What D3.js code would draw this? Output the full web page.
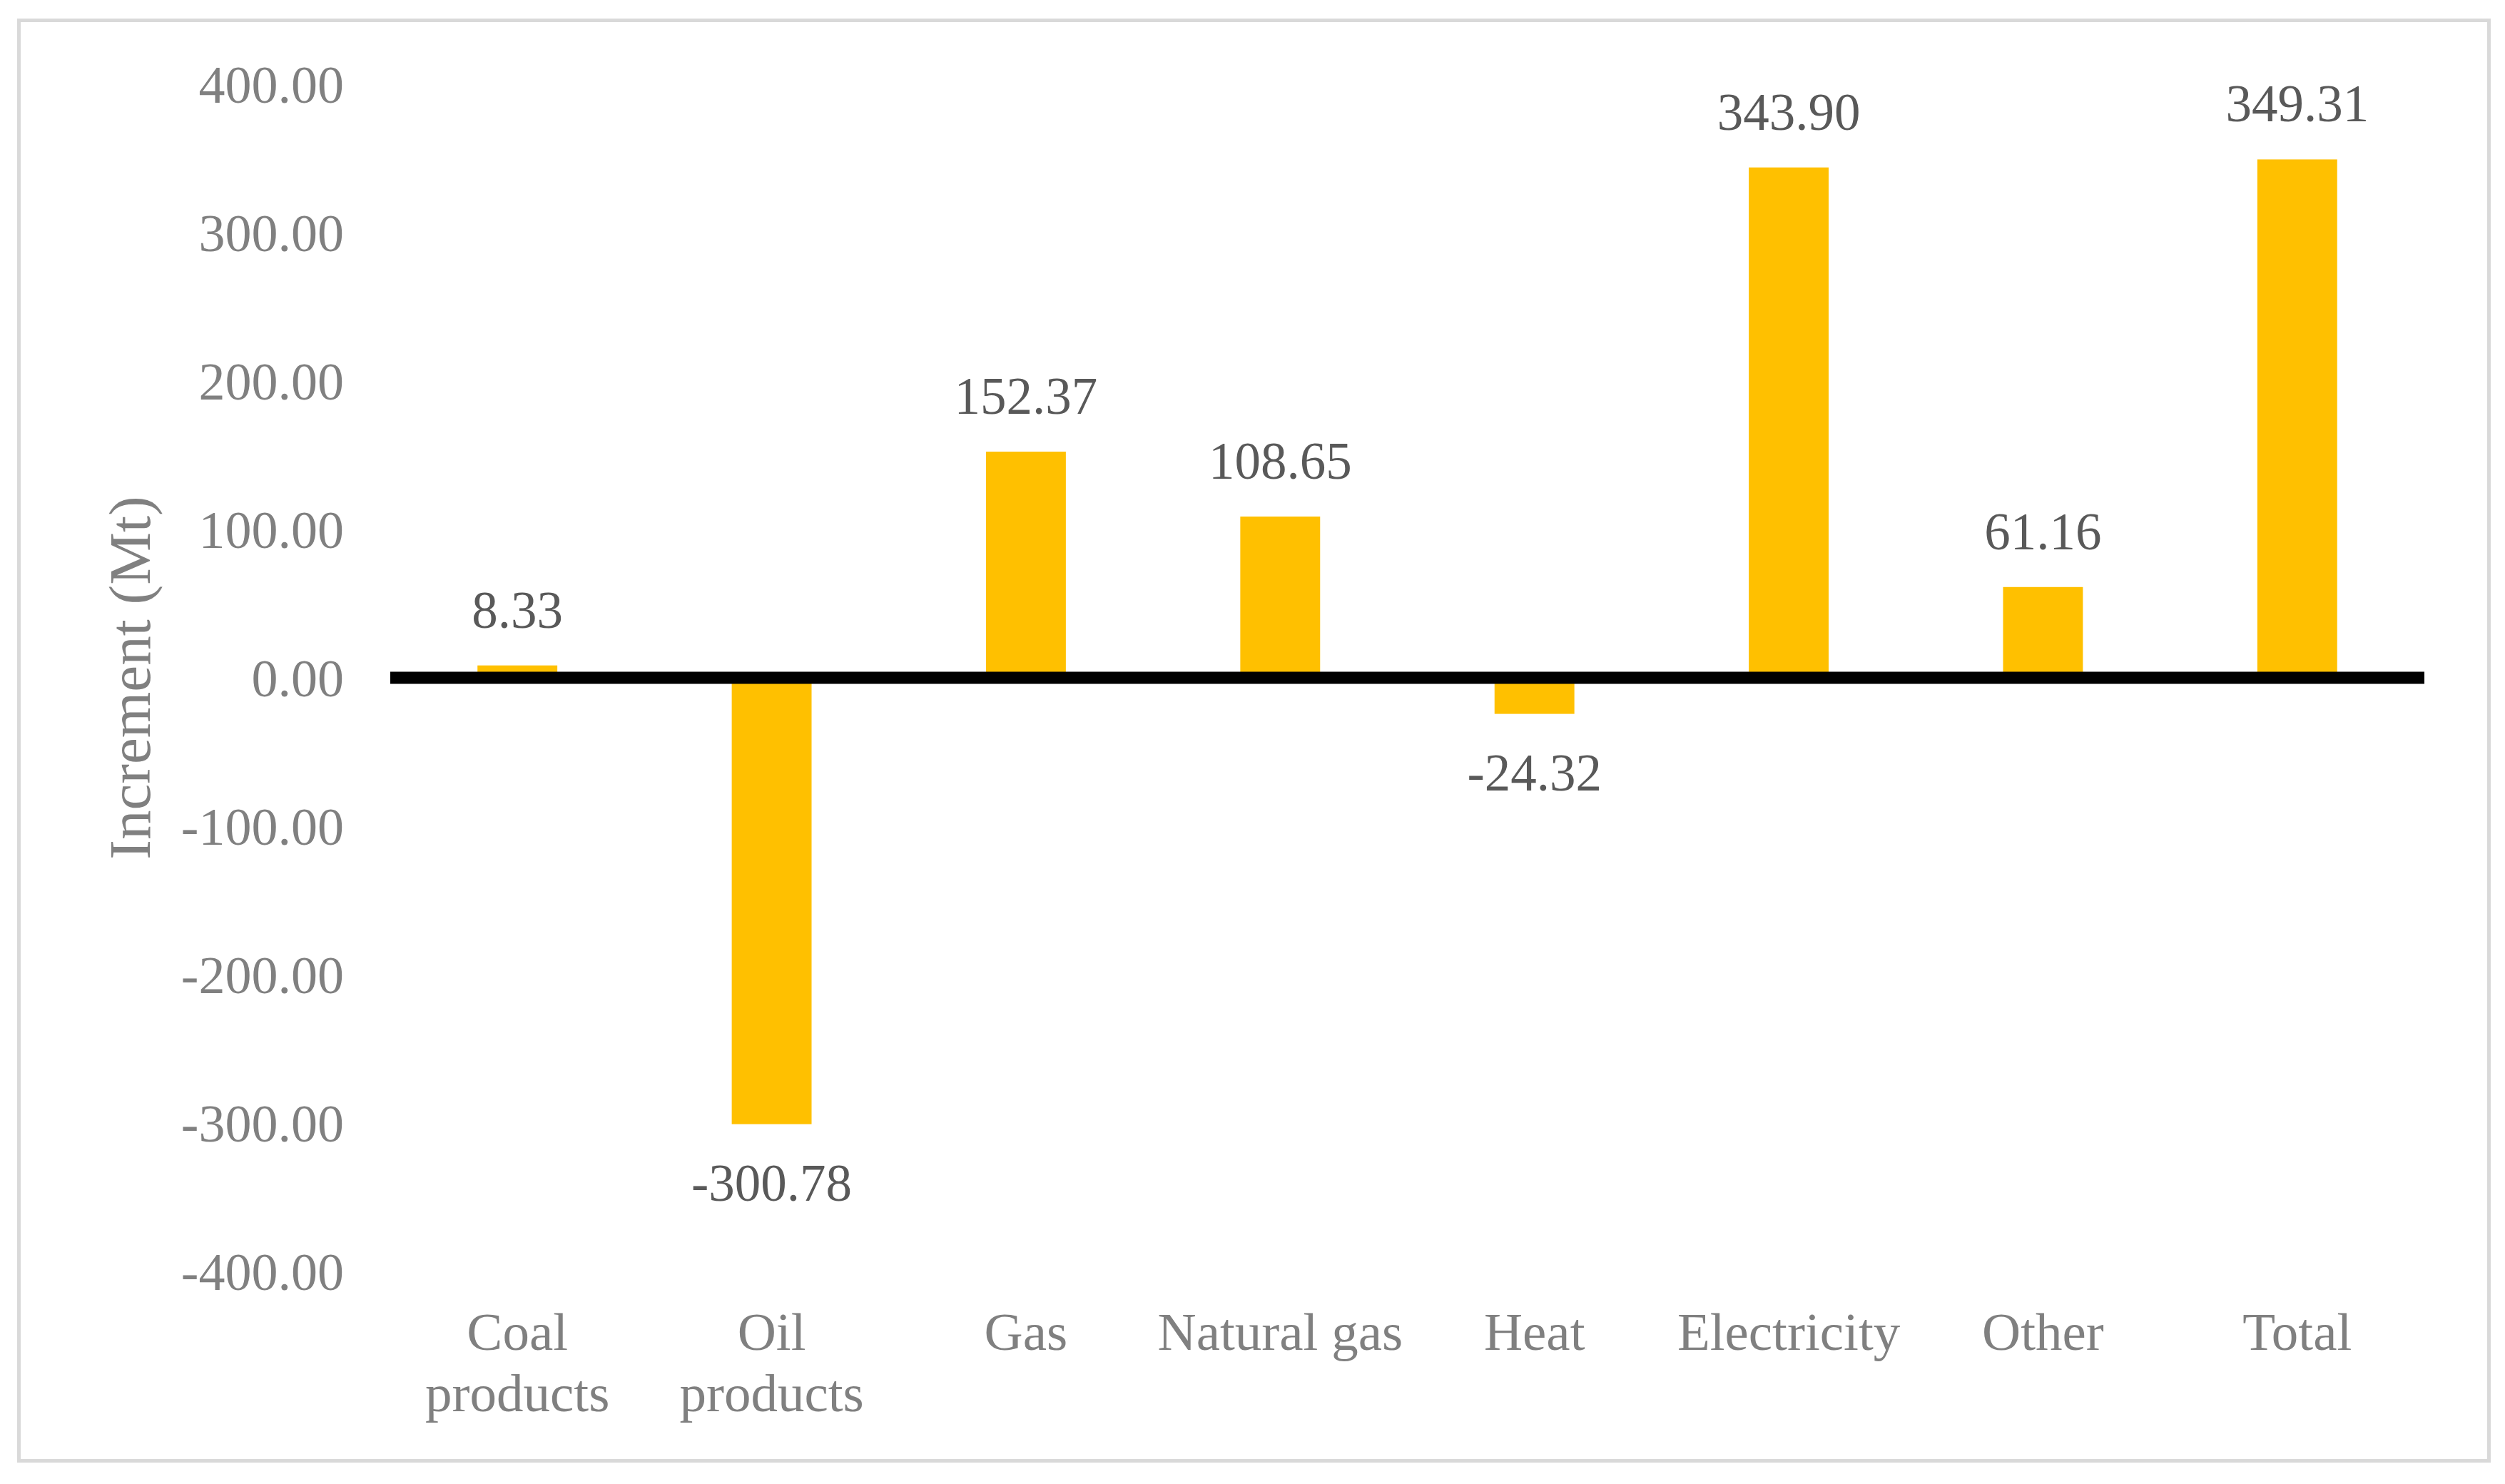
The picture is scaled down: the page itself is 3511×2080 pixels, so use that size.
<!DOCTYPE html>
<html>
<head>
<meta charset="utf-8">
<script src="https://cdn.jsdelivr.net/npm/d3@7"></script>
<style>
  html, body { margin: 0; padding: 0; background: #ffffff; }
  svg { display: block; }
</style>
</head>
<body>
<svg id="chart" width="3511" height="2080"></svg>
<script>
// ---- data ----
const categories = ["Coal products", "Oil products", "Gas", "Natural gas", "Heat", "Electricity", "Other", "Total"];
const increments = [8.33, -300.78, 152.37, 108.65, -24.32, 343.90, 61.16, 349.31];
const yTicks = [400, 300, 200, 100, 0, -100, -200, -300, -400];
const yTitle = "Increment (Mt)";

// ---- layout ----
const W = 3511, H = 2080;
const plotLeft = 547, plotRight = 3398, plotTop = 118, plotBottom = 1782;
const font = "'Liberation Serif', 'Times New Roman', serif";
const barColor = "#FFC000";
const axisGray = "#808080";
const labelGray = "#595959";

const svg = d3.select("#chart");
svg.append("rect").attr("x", 0).attr("y", 0).attr("width", W).attr("height", H).attr("fill", "#ffffff");
svg.append("rect")
  .attr("x", 26.5).attr("y", 28.5).attr("width", 3462).attr("height", 2019)
  .attr("fill", "#ffffff").attr("stroke", "#d9d9d9").attr("stroke-width", 5);

const x = d3.scaleBand().domain(categories).range([plotLeft, plotRight])
  .paddingInner(0.686).paddingOuter(0.343);
const y = d3.scaleLinear().domain([-400, 400]).range([plotBottom, plotTop]);

const fmt = v => v.toFixed(2);

// y axis (labels only)
const yAxis = svg.append("g").attr("transform", `translate(${plotLeft},0)`)
  .call(d3.axisLeft(y).tickValues(yTicks).tickSize(0).tickPadding(65).tickFormat(fmt));
yAxis.select(".domain").remove();
yAxis.selectAll("text")
  .attr("font-family", font).attr("font-size", 74).attr("fill", axisGray)
  .attr("dy", "0.35em");

// y title
svg.append("text")
  .attr("transform", `translate(210,${y(0)}) rotate(-90)`)
  .attr("text-anchor", "middle")
  .attr("font-family", font).attr("font-size", 83).attr("fill", axisGray)
  .text(yTitle);

const data = categories.map((c, i) => ({ c, v: increments[i] }));

// bars
svg.append("g").selectAll("rect").data(data).join("rect")
  .attr("x", d => x(d.c))
  .attr("width", x.bandwidth())
  .attr("y", d => y(Math.max(0, d.v)))
  .attr("height", d => Math.abs(y(d.v) - y(0)))
  .attr("fill", barColor);

// zero line
svg.append("line")
  .attr("x1", plotLeft).attr("x2", plotRight)
  .attr("y1", y(0)).attr("y2", y(0))
  .attr("stroke", "#000000").attr("stroke-width", 17);

// data labels
svg.append("g").selectAll("text").data(data).join("text")
  .attr("x", d => x(d.c) + x.bandwidth() / 2)
  .attr("y", d => d.v >= 0 ? y(d.v) - 53 : y(d.v) + 107)
  .attr("text-anchor", "middle")
  .attr("font-family", font).attr("font-size", 73).attr("fill", labelGray)
  .text(d => fmt(d.v));

// category labels (wrapped when wider than the band step)
const catG = svg.append("g");
const catFont = 75, lineH = 86, firstBaseline = 1892;
categories.forEach(c => {
  const t = catG.append("text")
    .attr("text-anchor", "middle")
    .attr("font-family", font).attr("font-size", catFont).attr("fill", axisGray);
  const cx = x(c) + x.bandwidth() / 2;
  t.append("tspan").attr("x", cx).attr("y", firstBaseline).text(c);
  const w = t.node().getComputedTextLength();
  if (w > x.step() && c.includes(" ")) {
    t.selectAll("tspan").remove();
    c.split(" ").forEach((word, i) => {
      t.append("tspan").attr("x", cx).attr("y", firstBaseline + i * lineH).text(word);
    });
  }
});
</script>
</body>
</html>
